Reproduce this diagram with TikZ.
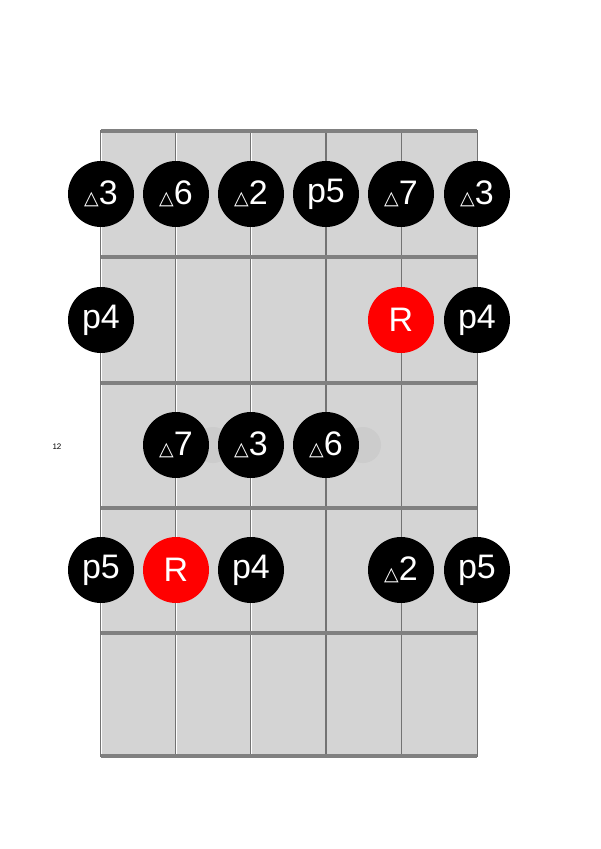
\documentclass[tikz,border=0pt]{standalone}
\usepackage{fontspec}
\setmainfont{Liberation Sans}
\newfontfamily\djv{DejaVu Sans}
\begin{document}
\begin{tikzpicture}[x=1pt,y=-1pt,
  note/.style={circle,fill=black,minimum size=66pt,inner sep=0pt,text=white,font=\fontsize{34}{34}\selectfont},
  root/.style={note,fill=red},
  inlay/.style={circle,fill=black!20,minimum size=36pt,inner sep=0pt}]
\useasboundingbox (0,0) rectangle (600,849);
\fill[black!17] (101,130) rectangle (477,757);
\node[inlay] (i1) at (213,445) {};
\node[inlay] (i2) at (363,445) {};
\foreach \x/\w in {101/2.6,176/2.4,251/2,326/1.2,401/1,477/0.8}{
  \draw[black!55,line width=\w pt] (\x,130) -- (\x,757);
  \ifdim\w pt>1.5pt \draw[white,line width=\w pt-1.6pt] (\x,130) -- (\x,757);\fi
}
\foreach \y in {131,257,383,508,633,756}{
  \draw[black!50,line width=3.5pt] (101,\y) -- (477,\y);
}
\node[font=\fontsize{8}{8}\selectfont] (lbl) at (57,447) {12};
\newcommand{\tri}{{\djv\fontsize{19}{19}\selectfont △}}
\node[note] (a1) at (101,194) {\tri3};
\node[note] (a2) at (176,194) {\tri6};
\node[note] (a3) at (251,194) {\tri2};
\node[note] (a4) at (326,194) {p5};
\node[note] (a5) at (401,194) {\tri7};
\node[note] (a6) at (477,194) {\tri3};
\node[note] (b1) at (101,320) {p4};
\node[root] (b5) at (401,320) {R};
\node[note] (b6) at (477,320) {p4};
\node[note] (c2) at (176,445) {\tri7};
\node[note] (c3) at (251,445) {\tri3};
\node[note] (c4) at (326,445) {\tri6};
\node[note] (d1) at (101,570) {p5};
\node[root] (d2) at (176,570) {R};
\node[note] (d3) at (251,570) {p4};
\node[note] (d5) at (401,570) {\tri2};
\node[note] (d6) at (477,570) {p5};
\end{tikzpicture}
\end{document}
